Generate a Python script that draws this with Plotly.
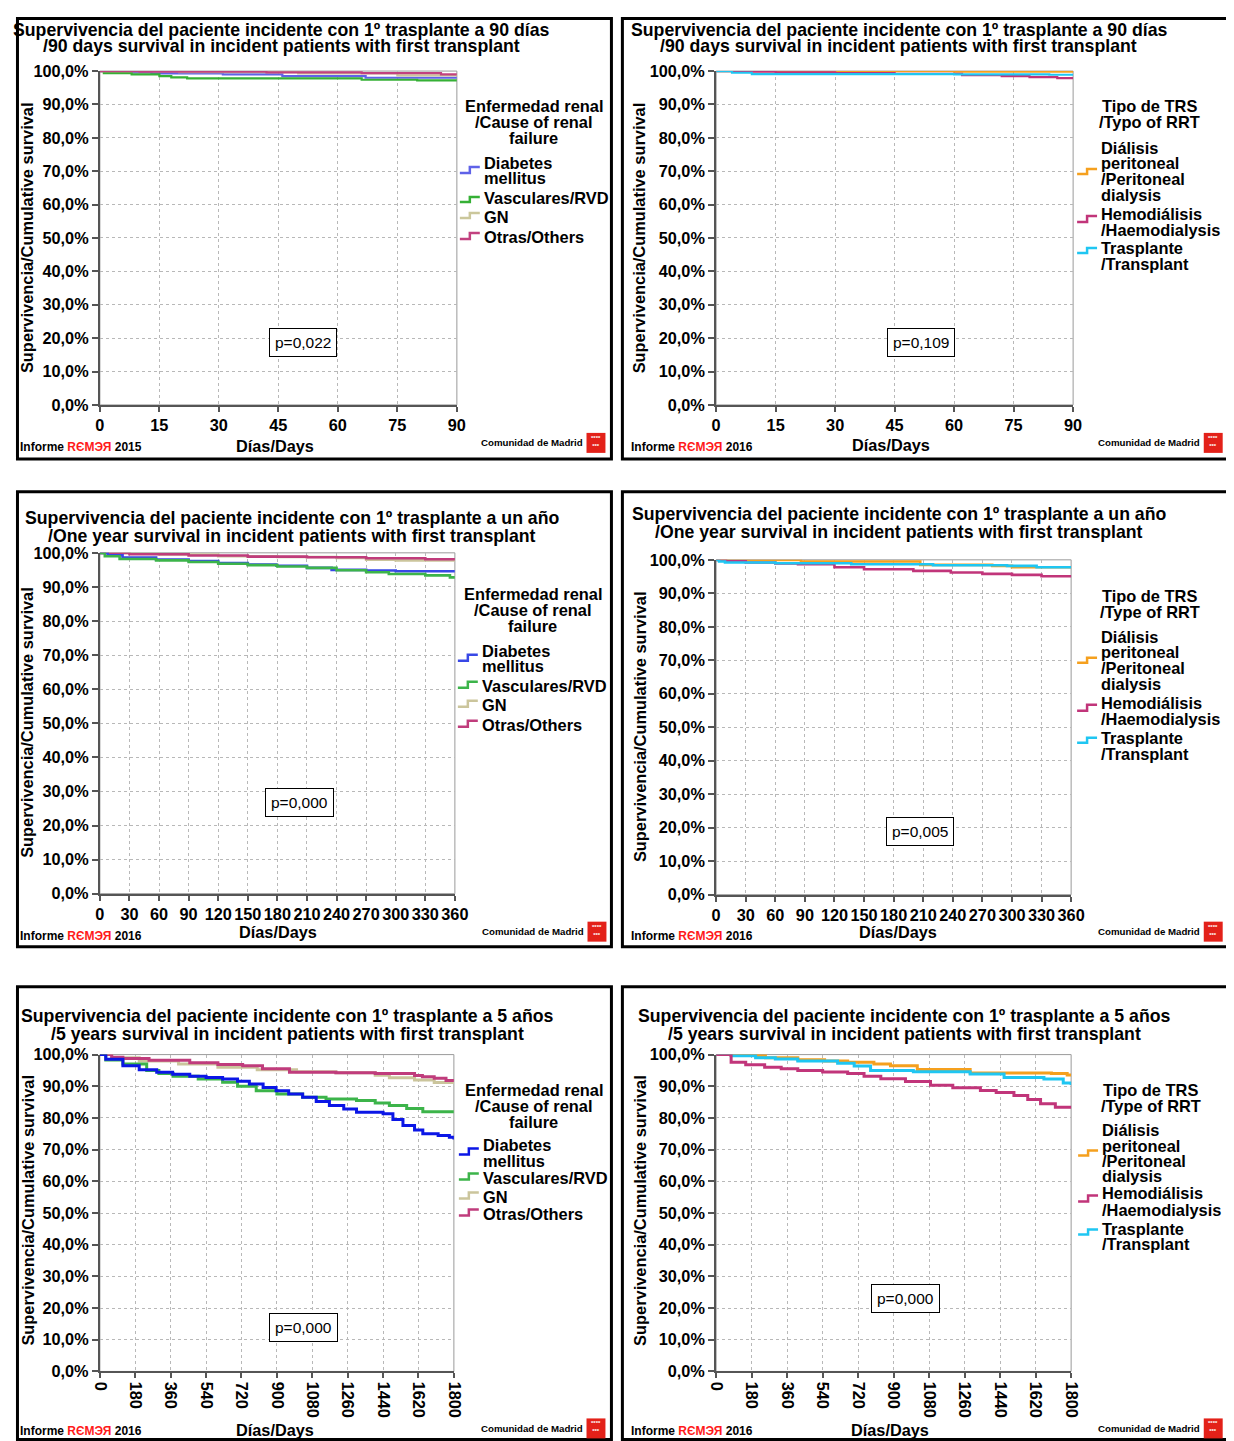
import plotly.graph_objects as go

W, H = 1234, 1441
# the page is photographed with an offset and a slight down-scaling;
# positions below are given in target-picture pixels and converted here.
SX, SY = 0.985, 0.988
FW, FH = 1237, 1443
FONT = "Liberation Sans, Arial, Helvetica, sans-serif"

# ---------------- data ----------------
y_tick_vals = [0, 10, 20, 30, 40, 50, 60, 70, 80, 90, 100]
y_tick_text = ["0,0%", "10,0%", "20,0%", "30,0%", "40,0%", "50,0%",
               "60,0%", "70,0%", "80,0%", "90,0%", "100,0%"]
x_ticks_90 = [0, 15, 30, 45, 60, 75, 90]
x_ticks_360 = [0, 30, 60, 90, 120, 150, 180, 210, 240, 270, 300, 330, 360]
x_ticks_1800 = [0, 180, 360, 540, 720, 900, 1080, 1260, 1440, 1620, 1800]

cause_names = ["Diabetes<br>mellitus", "Vasculares/RVD", "GN", "Otras/Others"]
rrt_names = ["Diálisis<br>peritoneal<br>/Peritoneal<br>dialysis",
             "Hemodiálisis<br>/Haemodialysis", "Trasplante<br>/Transplant"]

titles_90 = ["Supervivencia del paciente incidente con 1º trasplante a 90 días",
             "/90 days survival in incident patients with first transplant"]
titles_1y = ["Supervivencia del paciente incidente con 1º trasplante a un año",
             "/One year survival in incident patients with first transplant"]
titles_5y = ["Supervivencia del paciente incidente con 1º trasplante a 5 años",
             "/5 years survival in incident patients with first transplant"]
legend_title_cause = ["Enfermedad renal", "/Cause of renal", "failure"]
legend_title_rrt_a = ["Tipo de TRS", "/Typo of RRT"]
legend_title_rrt_b = ["Tipo de TRS", "/Type of RRT"]
p_values = ["p=0,022", "p=0,109", "p=0,000", "p=0,005", "p=0,000", "p=0,000"]
report_years = ["2015", "2016", "2016", "2016", "2016", "2016"]

# Panel A: 90 days, cause of renal failure
a_dm_days = [0, 5, 13, 31, 46, 67, 90]
a_dm_surv = [100, 99.6, 99.3, 99.0, 98.5, 98.0, 98.0]
a_vas_days = [0, 1, 8, 15, 18, 22, 66, 80, 90]
a_vas_surv = [100, 99.4, 99.0, 98.5, 98.1, 97.8, 97.4, 97.2, 97.2]
a_gn_days = [0, 20, 50, 75, 90]
a_gn_surv = [100, 99.7, 99.3, 98.7, 98.5]
a_ot_days = [0, 10, 42, 66, 86, 90]
a_ot_surv = [100, 99.8, 99.6, 99.4, 99.0, 99.0]

# Panel B: 90 days, type of RRT
b_pd_days = [0, 60, 90]
b_pd_surv = [100, 99.8, 99.8]
b_hd_days = [0, 5, 15, 30, 45, 62, 72, 79, 86, 90]
b_hd_surv = [100, 99.8, 99.6, 99.4, 99.2, 98.8, 98.5, 98.2, 97.9, 97.9]
b_tx_days = [0, 4, 9, 60, 84, 90]
b_tx_surv = [100, 99.5, 99.1, 99.0, 98.9, 98.9]

# Panel C: one year, cause of renal failure
c_dm_days = [0, 8, 23, 57, 90, 120, 150, 179, 210, 235, 270, 300, 330, 360]
c_dm_surv = [100, 99.3, 98.6, 98.0, 97.6, 97.0, 96.6, 96.2, 95.6, 95.0, 94.8, 94.6, 94.6, 94.6]
c_vas_days = [0, 5, 20, 57, 90, 120, 150, 180, 210, 240, 270, 293, 330, 355, 360]
c_vas_surv = [100, 99.0, 98.2, 97.8, 97.3, 96.8, 96.4, 96.0, 95.6, 94.9, 94.3, 93.8, 93.4, 92.8, 92.8]
c_gn_days = [0, 60, 120, 180, 240, 270, 300, 360]
c_gn_surv = [100, 99.5, 99.0, 98.8, 98.5, 98.0, 97.8, 97.6]
c_ot_days = [0, 30, 90, 150, 210, 270, 330, 360]
c_ot_surv = [100, 99.6, 99.2, 98.9, 98.7, 98.4, 98.1, 98.0]

# Panel D: one year, type of RRT
d_pd_days = [0, 86, 207, 280, 300, 360]
d_pd_surv = [100, 99.5, 98.5, 98.2, 97.8, 97.8]
d_hd_days = [0, 10, 30, 60, 83, 120, 150, 200, 238, 270, 300, 330, 360]
d_hd_surv = [100, 99.6, 99.2, 98.9, 98.7, 97.8, 97.2, 96.7, 96.2, 95.8, 95.5, 95.1, 94.7]
d_tx_days = [0, 3, 9, 60, 137, 220, 295, 325, 360]
d_tx_surv = [100, 99.5, 99.2, 99.0, 98.7, 98.4, 98.2, 97.8, 97.8]

# Panel E: 5 years, cause of renal failure
e_dm_days = [0, 30, 117, 200, 289, 370, 457, 540, 624, 700, 760, 830, 896, 960, 1031,
             1100, 1167, 1240, 1305, 1440, 1490, 1541, 1600, 1642, 1720, 1777, 1800]
e_dm_surv = [100, 98.5, 96.5, 95.2, 94.4, 93.8, 93.2, 92.8, 92.3, 91.6, 90.7, 89.6, 88.6, 87.6, 86.5,
             85.2, 83.9, 82.8, 81.8, 81.3, 79.5, 77.6, 76.2, 75.0, 74.5, 73.9, 73.2]
e_vas_days = [0, 30, 117, 238, 300, 372, 500, 624, 700, 795, 900, 1031, 1150, 1305, 1400,
              1472, 1560, 1642, 1800]
e_vas_surv = [100, 98.3, 97.0, 95.0, 94.0, 93.2, 92.3, 91.3, 90.0, 88.6, 87.6, 86.5, 86.0, 85.5, 84.7,
              83.9, 83.0, 82.0, 82.0]
e_gn_days = [0, 60, 200, 400, 600, 800, 1000, 1200, 1400, 1472, 1600, 1700, 1800]
e_gn_surv = [100, 99.0, 98.0, 97.0, 96.0, 95.2, 94.6, 94.3, 93.5, 92.7, 92.0, 91.2, 90.9]
e_ot_days = [0, 60, 117, 250, 457, 600, 726, 827, 964, 1200, 1400, 1600, 1640, 1700, 1760, 1800]
e_ot_surv = [100, 99.2, 98.8, 98.2, 97.4, 96.9, 96.5, 95.5, 94.4, 94.3, 94.0, 93.4, 93.0, 92.5, 91.8, 91.5]

# Panel F: 5 years, type of RRT
f_pd_days = [0, 76, 250, 414, 550, 667, 800, 884, 1020, 1288, 1700, 1780, 1800]
f_pd_surv = [100, 99.7, 99.0, 98.4, 98.0, 97.6, 97.0, 96.5, 95.3, 94.2, 94.0, 93.6, 93.6]
f_hd_days = [0, 76, 150, 246, 330, 414, 540, 667, 750, 835, 960, 1087, 1200, 1340, 1420,
             1510, 1580, 1645, 1720, 1800]
f_hd_surv = [100, 97.6, 96.8, 96.0, 95.5, 95.0, 94.5, 94.0, 93.2, 92.4, 91.5, 90.3, 89.5, 88.7, 88.0,
             87.1, 85.8, 84.5, 83.4, 82.9]
f_tx_days = [0, 76, 200, 300, 414, 616, 700, 783, 1000, 1288, 1460, 1662, 1760, 1800]
f_tx_surv = [100, 99.6, 99.0, 98.6, 98.0, 97.3, 96.4, 95.0, 94.6, 93.9, 92.8, 92.3, 91.0, 90.4]

# ---------------- styles / layout ----------------
C15 = dict(dm="#5f62e8", vas="#35b035", gn="#cbc79b", ot="#c2417f")
C16 = dict(dm="#3848e6", vas="#3cb44a", gn="#cbc59c", ot="#c03c7c")
C16b = dict(dm="#0b16e6", vas="#3cb44a", gn="#cbc59c", ot="#c03c7c")
CR = dict(pd="#f5a01e", hd="#c1357a", tx="#1fc6f2")

panels = [
    dict(box=(5, 3, 613, 458), plot=(100, 70, 458, 404), xmax=90, xticks=x_ticks_90, tickangle=0,
         titles=titles_90, tcx=282, ty=(28.5, 45),
         series=[(a_dm_days, a_dm_surv, C15["dm"]), (a_vas_days, a_vas_surv, C15["vas"]),
                 (a_gn_days, a_gn_surv, C15["gn"]), (a_ot_days, a_ot_surv, C15["ot"])],
         lw=2.2, ltitle=legend_title_cause, lcx=535, lty=(105, 121, 137),
         ltx=483, licon=461,
         items=[(cause_names[0], (162, 177), (166, 172), C15["dm"]),
                (cause_names[1], (197,), (196, 201), C15["vas"]),
                (cause_names[2], (216,), (212, 217), C15["gn"]),
                (cause_names[3], (236,), (232, 238), C15["ot"])],
         p=(304, 342), ytitle=(27, 237), xtitle=(276, 445), foot=(18, 446), com=(586, 442), logo=(588, 432)),
    dict(box=(624, 3, 1231, 458), plot=(718, 70, 1076, 404), xmax=90, xticks=x_ticks_90, tickangle=0,
         titles=titles_90, tcx=901, ty=(28.5, 45),
         series=[(b_pd_days, b_pd_surv, CR["pd"]), (b_hd_days, b_hd_surv, CR["hd"]),
                 (b_tx_days, b_tx_surv, CR["tx"])],
         lw=2.2, ltitle=legend_title_rrt_a, lcx=1153, lty=(105, 121),
         ltx=1102, licon=1080,
         items=[(rrt_names[0], (147, 162, 178, 194), (168, 173), CR["pd"]),
                (rrt_names[1], (213, 229), (215, 221), CR["hd"]),
                (rrt_names[2], (247, 263), (247, 252), CR["tx"])],
         p=(923, 342), ytitle=(641, 237), xtitle=(893, 444), foot=(631, 446), com=(1205, 442), logo=(1207, 432)),
    dict(box=(6, 491, 613, 946), plot=(100, 552, 456, 893), xmax=360, xticks=x_ticks_360, tickangle=0,
         titles=titles_1y, tcx=293, ty=(517, 535),
         series=[(c_gn_days, c_gn_surv, C16["gn"]), (c_ot_days, c_ot_surv, C16["ot"]),
                 (c_dm_days, c_dm_surv, C16["dm"]), (c_vas_days, c_vas_surv, C16["vas"])],
         lw=2.6, ltitle=legend_title_cause, lcx=534, lty=(593, 609, 625),
         ltx=481, licon=459,
         items=[(cause_names[0], (650, 665), (654, 660), C16["dm"]),
                (cause_names[1], (685,), (681, 687), C16["vas"]),
                (cause_names[2], (704,), (700, 706), C16["gn"]),
                (cause_names[3], (724,), (720, 726), C16["ot"])],
         p=(300, 802), ytitle=(27, 722), xtitle=(279, 931), foot=(18, 935), com=(587, 931), logo=(589, 921)),
    dict(box=(624, 491, 1231, 946), plot=(718, 559, 1074, 894), xmax=360, xticks=x_ticks_360, tickangle=0,
         titles=titles_1y, tcx=901, ty=(513, 531),
         series=[(d_pd_days, d_pd_surv, CR["pd"]), (d_hd_days, d_hd_surv, CR["hd"]),
                 (d_tx_days, d_tx_surv, CR["tx"])],
         lw=2.6, ltitle=legend_title_rrt_b, lcx=1153, lty=(595, 611),
         ltx=1102, licon=1080,
         items=[(rrt_names[0], (636, 651, 667, 683), (657, 662), CR["pd"]),
                (rrt_names[1], (702, 718), (704, 710), CR["hd"]),
                (rrt_names[2], (737, 753), (737, 742), CR["tx"])],
         p=(922, 831), ytitle=(641, 726), xtitle=(900, 931), foot=(631, 935), com=(1205, 931), logo=(1207, 921)),
    dict(box=(5, 986, 613, 1439), plot=(100, 1054, 455, 1371), xmax=1800, xticks=x_ticks_1800, tickangle=90,
         titles=titles_5y, tcx=288, ty=(1015, 1033),
         series=[(e_gn_days, e_gn_surv, C16b["gn"]), (e_ot_days, e_ot_surv, C16b["ot"]),
                 (e_vas_days, e_vas_surv, C16b["vas"]), (e_dm_days, e_dm_surv, C16b["dm"])],
         lw=3, ltitle=legend_title_cause, lcx=535, lty=(1089, 1105, 1121),
         ltx=482, licon=460,
         items=[(cause_names[0], (1144, 1160), (1148, 1154), C16b["dm"]),
                (cause_names[1], (1177,), (1173, 1179), C16b["vas"]),
                (cause_names[2], (1196,), (1192, 1198), C16b["gn"]),
                (cause_names[3], (1213,), (1209, 1215), C16b["ot"])],
         p=(304, 1327), ytitle=(27, 1210), xtitle=(276, 1430), foot=(18, 1431), com=(586, 1428), logo=(588, 1418)),
    dict(box=(624, 986, 1231, 1439), plot=(718, 1054, 1074, 1371), xmax=1800, xticks=x_ticks_1800, tickangle=90,
         titles=titles_5y, tcx=907, ty=(1015, 1033),
         series=[(f_pd_days, f_pd_surv, CR["pd"]), (f_tx_days, f_tx_surv, CR["tx"]),
                 (f_hd_days, f_hd_surv, CR["hd"])],
         lw=3, ltitle=legend_title_rrt_b, lcx=1154, lty=(1089, 1105),
         ltx=1103, licon=1081,
         items=[(rrt_names[0], (1129, 1145, 1160, 1175), (1150, 1155), CR["pd"]),
                (rrt_names[1], (1192, 1209), (1195, 1201), CR["hd"]),
                (rrt_names[2], (1228, 1243), (1229, 1234), CR["tx"])],
         p=(908, 1298), ytitle=(641, 1210), xtitle=(892, 1430), foot=(631, 1431), com=(1205, 1428), logo=(1207, 1418)),
]


def px(x):
    f = (x - 8) / SX - 8
    return min(max(f, 1.5), FW - 1.5) / FW


def py(y):
    f = (y - 8) / SY - 8
    return 1 - min(max(f, 1.5), FH - 1.5) / FH


fig = go.Figure()
layout = dict(width=FW, height=FH, margin=dict(l=0, r=0, t=0, b=0), autosize=False,
              paper_bgcolor="white", plot_bgcolor="white", showlegend=False,
              font=dict(family=FONT, color="black"))
shapes = []
annotations = []


def text(t, x, y, size, xanchor="center", bold=True, color="black", angle=0, **kw):
    annotations.append(dict(text=("<b>%s</b>" % t) if bold else t, x=px(x), y=py(y),
                            xref="paper", yref="paper", showarrow=False, xanchor=xanchor,
                            yanchor="middle", textangle=angle,
                            font=dict(family=FONT, size=size, color=color), **kw))


for i, p in enumerate(panels):
    n = "" if i == 0 else str(i + 1)
    xname, yname = "x" + n, "y" + n
    x0, y0, x1, y1 = p["plot"]
    tick_font = dict(family=FONT, size=16.3, color="black", weight="bold")
    layout["xaxis" + n] = dict(domain=[px(x0), px(x1)], anchor=yname, range=[0, p["xmax"]],
                               tickvals=p["xticks"], ticktext=[str(t) for t in p["xticks"]],
                               tickangle=p["tickangle"], showgrid=True, gridcolor="#b8b8b8",
                               griddash="dot", gridwidth=1, showline=True, linecolor="#555555",
                               linewidth=2, ticks="outside", ticklen=5, tickcolor="#555555",
                               tickwidth=1.5, tickfont=tick_font, zeroline=False, fixedrange=True)
    layout["yaxis" + n] = dict(domain=[py(y1), py(y0)], anchor=xname, range=[0, 100],
                               tickvals=y_tick_vals, ticktext=y_tick_text, showgrid=True,
                               gridcolor="#b8b8b8", griddash="dot", gridwidth=1, showline=True,
                               linecolor="#555555", linewidth=2, ticks="outside", ticklen=6,
                               tickcolor="#555555", tickwidth=1.5, tickfont=tick_font,
                               zeroline=False, fixedrange=True, ticklabelstandoff=0)
    shapes.append(dict(type="rect", xref=xname + " domain", yref=yname + " domain",
                       x0=0, x1=1, y0=0, y1=1, line=dict(color="#9a9a9a", width=1), layer="below"))
    for days, surv, col in p["series"]:
        fig.add_trace(go.Scatter(x=days, y=surv, mode="lines", xaxis=xname, yaxis=yname,
                                 line=dict(shape="hv", color=col, width=p["lw"]),
                                 hoverinfo="skip", showlegend=False))
    bx0, by0, bx1, by1 = p["box"]
    shapes.append(dict(type="rect", xref="paper", yref="paper", x0=px(bx0), x1=px(bx1),
                       y0=py(by1), y1=py(by0), line=dict(color="black", width=3)))
    for t, ty in zip(p["titles"], p["ty"]):
        text(t, p["tcx"], ty, 17.7)
    for t, ty in zip(p["ltitle"], p["lty"]):
        text(t, p["lcx"], ty, 16.4)
    for label, lys, (iy0, iy1), col in p["items"]:
        for line, ly in zip(label.split("<br>"), lys):
            text(line, p["ltx"], ly, 16.4, xanchor="left")
        lx = p["licon"]
        path = "M %f %f L %f %f L %f %f L %f %f" % (
            px(lx), py(iy1), px(lx + 10), py(iy1), px(lx + 10), py(iy0), px(lx + 20), py(iy0))
        shapes.append(dict(type="path", xref="paper", yref="paper", path=path,
                           line=dict(color=col, width=2.5)))
    text(p_values[i], p["p"][0], p["p"][1], 15.5, bold=False, bordercolor="black",
         borderwidth=1, borderpad=5, bgcolor="white")
    text("Supervivencia/Cumulative survival", p["ytitle"][0], p["ytitle"][1], 16.4, angle=-90)
    text("Días/Days", p["xtitle"][0], p["xtitle"][1], 16.3)
    text("Informe <span style='color:#ff1a1a'>RЄMЭЯ</span> " + report_years[i], p["foot"][0],
         p["foot"][1], 12, xanchor="left")
    text("Comunidad de Madrid", p["com"][0], p["com"][1], 9.7, xanchor="right")
    lx, ly = p["logo"]
    shapes.append(dict(type="rect", xref="paper", yref="paper", x0=px(lx), x1=px(lx + 19),
                       y0=py(ly + 20), y1=py(ly), line=dict(width=0), fillcolor="#e32119"))
    text("****<br>***", lx + 9.5, ly + 9, 6, color="white")

layout["shapes"] = shapes
layout["annotations"] = annotations
fig.update_layout(**layout)
fig.write_html("out.html")
